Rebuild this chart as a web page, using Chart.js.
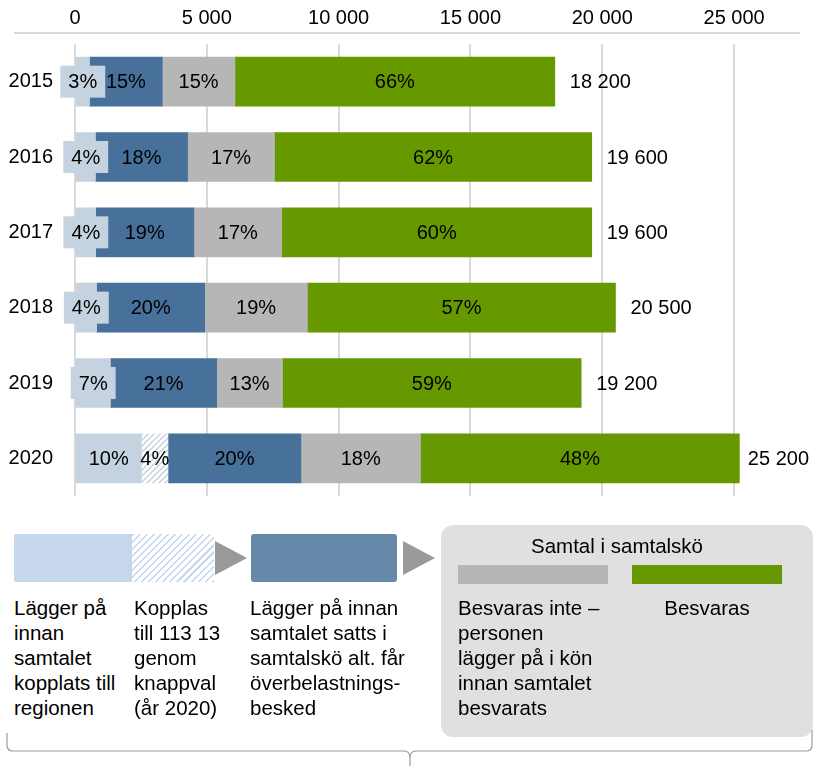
<!DOCTYPE html>
<html>
<head>
<meta charset="utf-8">
<script src="https://cdn.jsdelivr.net/npm/chart.js@4/dist/chart.umd.min.js"></script>
<style>
  body { margin: 0; background: #fff; font-family: "Liberation Sans", Arial, sans-serif; color: #000; }
  #wrap { position: relative; width: 815px; height: 766px; overflow: hidden; }
  #chartBox { position: absolute; left: 0; top: 0; width: 815px; height: 530px; }
  .box { position: absolute; }
  .txt { position: absolute; font-size: 20.5px; line-height: 25px; white-space: nowrap; }
  svg { position: absolute; left: 0; top: 0; }
</style>
</head>
<body>
<div id="wrap">
  <div id="chartBox"><canvas id="calls" width="815" height="530"></canvas></div>

  <!-- flow legend -->
  <div class="box" style="left:14px;top:534px;width:118px;height:48px;background:#c6d6ec;border-radius:2px 0 0 2px;"></div>
  <div class="box" style="left:132px;top:534px;width:82px;height:48px;background:repeating-linear-gradient(135deg,#c6d6ec 0 1.5px,#fff 1.5px 5px);"></div>
  <div class="box" style="left:251px;top:534px;width:146px;height:48px;background:#6689a9;border-radius:3px;"></div>
  <div class="box" style="left:441px;top:525px;width:372px;height:212px;background:#e0e0e0;border-radius:12px;"></div>
  <div class="box" style="left:458px;top:565px;width:150px;height:19px;background:#b6b6b6;"></div>
  <div class="box" style="left:632px;top:565px;width:150px;height:19px;background:#669900;"></div>

  <div class="txt" style="left:441px;width:352px;text-align:center;top:533px;">Samtal i samtalskö</div>
  <div class="txt" style="left:14px;top:595px;">Lägger på<br>innan<br>samtalet<br>kopplats till<br>regionen</div>
  <div class="txt" style="left:134px;top:595px;">Kopplas<br>till 113 13<br>genom<br>knappval<br>(år 2020)</div>
  <div class="txt" style="left:250px;top:595px;">Lägger på innan<br>samtalet satts i<br>samtalskö alt. får<br>överbelastnings-<br>besked</div>
  <div class="txt" style="left:458px;top:595px;">Besvaras inte –<br>personen<br>lägger på i kön<br>innan samtalet<br>besvarats</div>
  <div class="txt" style="left:632px;width:150px;text-align:center;top:595px;">Besvaras</div>

  <svg width="815" height="766">
    <polygon points="215,541 247,558 215,575" fill="#999"/>
    <polygon points="403,541 435,558 403,575" fill="#999"/>
    <path d="M7 733 L7 745 Q7 751 13 751 L404 751 Q410 751 410 758 L410 766 M410 758 Q410 751 416 751 L806 751 Q812 751 812 745 L812 730"
          fill="none" stroke="#9a9a9a" stroke-width="1.2"/>
  </svg>
</div>

<script>
// calls per year and share per step (percent)
const years = ['2015', '2016', '2017', '2018', '2019', '2020'];
const totals = [18200, 19600, 19600, 20500, 19200, 25200];
const pctHangup = [3, 4, 4, 4, 7, 10];
const pctKnappval = [0, 0, 0, 0, 0, 4];
const pctOverload = [15, 18, 19, 20, 21, 20];
const pctUnanswered = [15, 17, 17, 19, 13, 18];
const pctAnswered = [66, 62, 60, 57, 59, 48];
const xTicks = [0, 5000, 10000, 15000, 20000, 25000];

const FAMILY = '"Liberation Sans", Arial, sans-serif';
const FONT = '20px ' + FAMILY;

function fmt(n) {
  return String(n).replace(/\B(?=(\d{3})+(?!\d))/g, ' ');
}

// percent of the year's total, scaled so the shares add up to the total
function seg(pcts) {
  return pcts.map((p, i) => {
    const sum = pctHangup[i] + pctKnappval[i] + pctOverload[i] + pctUnanswered[i] + pctAnswered[i];
    return p ? p / sum * totals[i] : null;
  });
}

function makeHatch() {
  const c = document.createElement('canvas');
  c.width = 6; c.height = 6;
  const g = c.getContext('2d');
  g.fillStyle = '#fff';
  g.fillRect(0, 0, 6, 6);
  g.strokeStyle = '#c5d3e0';
  g.lineWidth = 1.5;
  g.beginPath();
  g.moveTo(0, 6); g.lineTo(6, 0);
  g.moveTo(-3, 3); g.lineTo(3, -3);
  g.moveTo(3, 9); g.lineTo(9, 3);
  g.stroke();
  return g.createPattern(c, 'repeat');
}

// top axis line, a bit wider than the plot
const axisLine = {
  id: 'axisLine',
  beforeDatasetsDraw(chart) {
    const ctx = chart.ctx;
    ctx.save();
    ctx.strokeStyle = '#d9d9d9';
    ctx.lineWidth = 2;
    ctx.beginPath();
    ctx.moveTo(14, 33);
    ctx.lineTo(800, 33);
    ctx.stroke();
    ctx.restore();
  }
};

// percent labels inside the bars and totals after them
const segLabels = {
  id: 'segLabels',
  afterDatasetsDraw(chart) {
    const ctx = chart.ctx;
    ctx.save();
    ctx.font = FONT;
    ctx.textBaseline = 'middle';
    ctx.textAlign = 'center';
    chart.data.datasets.forEach((ds, di) => {
      const meta = chart.getDatasetMeta(di);
      meta.data.forEach((bar, i) => {
        const p = ds.pct[i];
        if (!p) return;
        const txt = p + '%';
        const w = ctx.measureText(txt).width;
        const segW = Math.abs(bar.x - bar.base);
        const cx = (bar.x + bar.base) / 2;
        if (ds.labelBox && w + 16 > segW) {
          ctx.fillStyle = ds.backgroundColor;
          ctx.fillRect(cx - w / 2 - 8, bar.y - 16, w + 16, 32);
        }
        ctx.fillStyle = '#000';
        ctx.fillText(txt, cx, bar.y + 1);
      });
    });
    const last = chart.getDatasetMeta(chart.data.datasets.length - 1);
    ctx.textAlign = 'left';
    ctx.fillStyle = '#000';
    last.data.forEach((bar, i) => {
      const txt = fmt(totals[i]);
      const w = ctx.measureText(txt).width;
      ctx.fillText(txt, Math.min(bar.x + 15, chart.width - 6 - w), bar.y + 1);
    });
    ctx.restore();
  }
};

new Chart(document.getElementById('calls'), {
  type: 'bar',
  data: {
    labels: years,
    datasets: [
      { label: 'Lägger på innan samtalet kopplats till regionen', data: seg(pctHangup), pct: pctHangup, backgroundColor: '#c5d3e0', labelBox: true },
      { label: 'Kopplas till 113 13 genom knappval', data: seg(pctKnappval), pct: pctKnappval, backgroundColor: makeHatch() },
      { label: 'Lägger på innan samtalet satts i samtalskö', data: seg(pctOverload), pct: pctOverload, backgroundColor: '#47709a' },
      { label: 'Besvaras inte', data: seg(pctUnanswered), pct: pctUnanswered, backgroundColor: '#b6b6b6' },
      { label: 'Besvaras', data: seg(pctAnswered), pct: pctAnswered, backgroundColor: '#669900' }
    ]
  },
  options: {
    indexAxis: 'y',
    responsive: false,
    animation: false,
    barThickness: 49,
    borderWidth: 0,
    layout: { padding: { left: 0, right: 15, top: 0, bottom: 4 } },
    plugins: { legend: { display: false }, tooltip: { enabled: false } },
    scales: {
      x: {
        position: 'top',
        stacked: true,
        min: 0,
        max: 27500,
        afterBuildTicks: scale => { scale.ticks = xTicks.map(v => ({ value: v })); },
        afterFit: scale => { scale.height = 44; },
        grid: { color: '#d9d9d9', lineWidth: 2, drawTicks: false },
        border: { display: false },
        ticks: { font: { family: FAMILY, size: 20 }, color: '#000', padding: 14, callback: v => fmt(v) }
      },
      y: {
        stacked: true,
        afterFit: scale => { scale.width = 75; },
        grid: { display: false, drawTicks: false },
        border: { display: false },
        ticks: { font: { family: FAMILY, size: 20 }, color: '#000', padding: 22 }
      }
    }
  },
  plugins: [axisLine, segLabels]
});
</script>
</body>
</html>
